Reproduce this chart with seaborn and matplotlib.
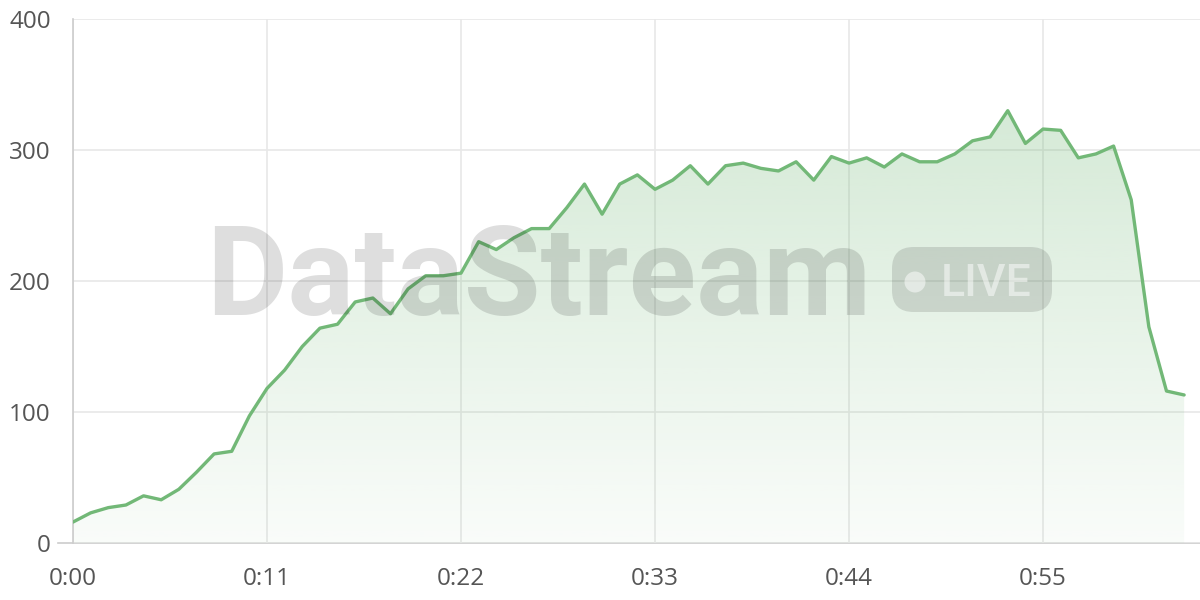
import numpy as np
import pandas as pd
import matplotlib
matplotlib.use("Agg")
import matplotlib.pyplot as plt
import seaborn as sns
from matplotlib.patches import FancyBboxPatch, Ellipse

# data (one point per second)
seconds = list(range(64))
values = [16, 23, 27, 29, 36, 33, 41, 54, 68, 70,
          97, 118, 132, 150, 164, 167, 184, 187, 175, 194,
          204, 204, 206, 230, 224, 233, 240, 240, 256, 274,
          251, 274, 281, 270, 277, 288, 274, 288, 290, 286,
          284, 291, 277, 295, 290, 294, 287, 297, 291, 291,
          297, 307, 310, 330, 305, 316, 315, 294, 297, 303,
          262, 165, 116, 113]
tick_secs = [0, 11, 22, 33, 44, 55]
tick_labels = ["0:00", "0:11", "0:22", "0:33", "0:44", "0:55"]
y_ticks = [0, 100, 200, 300, 400]

df = pd.DataFrame({"t": seconds, "v": values})

sns.set_style("white")
plt.rcParams["font.family"] = ["Open Sans", "DejaVu Sans"]

line_color = "#72b877"
grid_color = "#e8e8e8"
text_color = "#555555"

fig = plt.figure(figsize=(12, 6), dpi=100)
ax = fig.add_axes([73 / 1200, 57 / 600, 1 - 73 / 1200, (543 - 19) / 600])

# gradient fill under the line
fill = ax.fill_between(df["t"], df["v"], 0, color="none", lw=0)
grad = np.linspace(0.04, 0.30, 256).reshape(-1, 1)
rgba = np.zeros((256, 1, 4))
rgba[..., 0] = 116 / 255
rgba[..., 1] = 185 / 255
rgba[..., 2] = 121 / 255
rgba[..., 3] = grad
img = ax.imshow(rgba, origin="lower", aspect="auto",
                extent=[0, max(seconds), 0, max(values)], zorder=1)
img.set_clip_path(fill.get_paths()[0], transform=ax.transData)

sns.lineplot(data=df, x="t", y="v", ax=ax, color=line_color, linewidth=2.4, zorder=4)

ax.set_xlim(0, 63.9)
ax.set_ylim(0, 400)
ax.set_xticks(tick_secs)
ax.set_xticklabels(tick_labels)
ax.set_yticks(y_ticks)
ax.set_xlabel("")
ax.set_ylabel("")
ax.grid(True, color=grid_color, linewidth=1.2, zorder=0)
ax.set_axisbelow(True)
ax.tick_params(axis="both", length=11, width=1.2, color=grid_color,
               labelcolor=text_color, labelsize=17.5)
ax.tick_params(axis="y", pad=5)
ax.tick_params(axis="x", pad=6)
for side in ["top", "right"]:
    ax.spines[side].set_visible(False)
ax.spines["left"].set_color("#cccccc")
ax.spines["bottom"].set_color("#cccccc")
ax.spines["left"].set_linewidth(1.2)
ax.spines["bottom"].set_linewidth(1.2)
ax.spines["bottom"].set_bounds(-0.85, 63.9)
ax.spines["bottom"].set_zorder(0)

# watermark
fig.text(539 / 1200, 1 - 315 / 600, "DataStream", fontsize=90, fontweight="bold",
         family="Roboto", color="#000000", alpha=0.13,
         ha="center", va="baseline", zorder=3)
box = FancyBboxPatch((892 / 1200, 1 - 312 / 600), 160 / 1200, 65 / 600,
                     boxstyle="round,pad=0,rounding_size=0.018",
                     transform=fig.transFigure, facecolor="#000000",
                     alpha=0.12, edgecolor="none", zorder=3,
                     mutation_aspect=2)
fig.patches.append(box)
fig.patches.append(Ellipse((915 / 1200, 1 - 282 / 600), 21 / 1200, 21 / 600,
                           transform=fig.transFigure, facecolor="white",
                           alpha=0.5, edgecolor="none", zorder=3))
fig.text(986 / 1200, 1 - 296 / 600, "LIVE", fontsize=32, family="Roboto",
         fontweight="medium", color="white", alpha=0.5,
         ha="center", va="baseline", zorder=3)

fig.savefig("out.png", dpi=100)
